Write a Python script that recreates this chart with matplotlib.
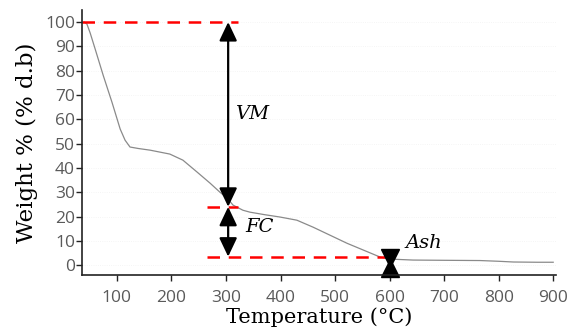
import numpy as np
import matplotlib.pyplot as plt

# -----------------------------
# DATA
# -----------------------------
temp = [40, 45, 51, 60, 75, 91, 106, 115, 124, 139, 161, 197, 221, 247,
        271, 289, 302, 313, 331, 344, 370, 399, 430, 460, 491, 522, 552,
        583, 601, 643, 700, 766, 800, 827, 870, 900]
weight = [100, 99.2, 95.5, 89, 78, 67, 56, 51.4, 48.6, 48, 47.3, 45.7, 43.2,
          38.3, 33.7, 30, 27.6, 24.7, 22.6, 21.8, 20.8, 19.8, 18.5, 15.6,
          12.3, 9, 6.2, 3.3, 2.5, 2.1, 2.0, 1.9, 1.6, 1.3, 1.2, 1.2]

vm_level = 100
fc_level = 24
ash_level = 3.5
marker_temp = 304
ash_temp = 600

xticks = [100, 200, 300, 400, 500, 600, 700, 800, 900]
yticks = [0, 10, 20, 30, 40, 50, 60, 70, 80, 90, 100]

# -----------------------------
# PLOT
# -----------------------------
fig = plt.figure(figsize=(5.71, 3.30), dpi=100)
ax = fig.add_axes([0.1436, 0.167, 0.83, 0.803])

ax.plot(temp, weight, color='#8a8a8a', lw=0.9)

red = dict(color='red', lw=1.8, dashes=(5, 3.5))
ax.plot([36, 322], [vm_level, vm_level], **red)
ax.plot([265, 322], [fc_level, fc_level], **red)
ax.plot([265, 592], [ash_level, ash_level], **red)

arrow = dict(arrowstyle='<|-|>,head_length=0.95,head_width=0.45',
             color='black', lw=1.6, mutation_scale=12, shrinkA=0, shrinkB=0)
ax.annotate('', xy=(marker_temp, vm_level), xytext=(marker_temp, fc_level),
            arrowprops=arrow)
ax.annotate('', xy=(marker_temp, fc_level), xytext=(marker_temp, ash_level),
            arrowprops=arrow)

# Ash: two opposing heads meeting in the middle
ax.plot([ash_temp], [2.9], marker='v', color='black', ms=12.5, clip_on=False)
ax.plot([ash_temp], [-1.2], marker='^', color='black', ms=12.5, clip_on=False)

tfont = dict(family='DejaVu Serif', style='italic', fontsize=14)
ax.text(348, 62.3, 'VM', ha='center', va='center', **tfont)
ax.text(362, 15.6, 'FC', ha='center', va='center', **tfont)
ax.text(662, 9, 'Ash', ha='center', va='center', **tfont)

ax.set_xlim(36, 905)
ax.set_ylim(-4, 105)
ax.set_xticks(xticks)
ax.set_yticks(yticks)
ax.tick_params(axis='both', colors='#222222', labelcolor='#5a5a5a',
               labelsize=12.5, length=4, width=1)
for lab in ax.get_xticklabels() + ax.get_yticklabels():
    lab.set_family('Open Sans')
ax.tick_params(axis='x', pad=7)
ax.tick_params(axis='y', pad=1)

for s in ['top', 'right']:
    ax.spines[s].set_visible(False)
for s in ['left', 'bottom']:
    ax.spines[s].set_color('#222222')
    ax.spines[s].set_linewidth(1.2)

ax.yaxis.grid(True, color='#f2f2f2', lw=0.6, ls=':')
ax.set_axisbelow(True)

ax.set_xlabel('Temperature (°C)', family='DejaVu Serif', fontsize=15,
              labelpad=1)
ax.set_ylabel('Weight % (% d.b)', family='DejaVu Serif', fontsize=16.5,
              labelpad=5)

plt.savefig('out.png', dpi=100)
